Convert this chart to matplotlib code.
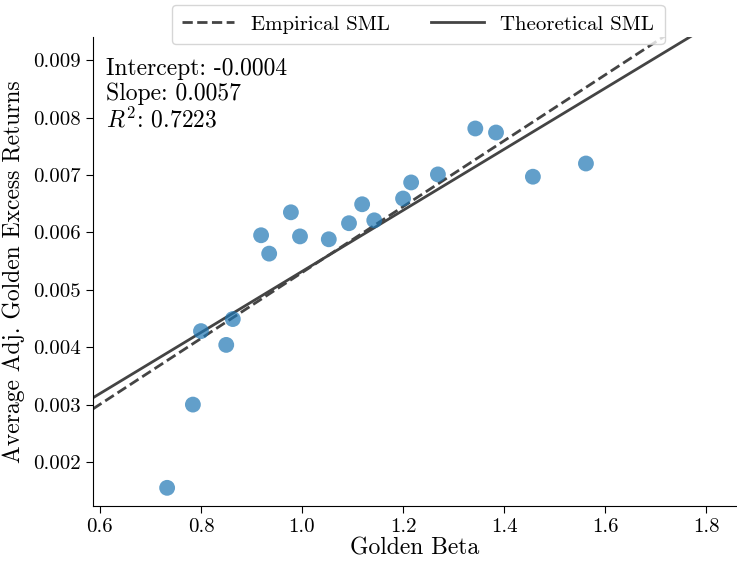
import numpy as np
import matplotlib
matplotlib.use("Agg")
import matplotlib.pyplot as plt

plt.rcParams['font.family'] = ['cmr10', 'DejaVu Serif']
plt.rcParams['mathtext.fontset'] = 'cm'
plt.rcParams['axes.formatter.use_mathtext'] = True
plt.rcParams['axes.unicode_minus'] = False

# portfolio betas and average adjusted excess returns
beta = [0.733, 0.784, 0.800, 0.850, 0.863, 0.919, 0.935, 0.978, 0.996, 1.053,
        1.093, 1.119, 1.143, 1.200, 1.216, 1.269, 1.343, 1.384, 1.457, 1.562]
excess_ret = [0.00155, 0.00300, 0.00428, 0.00404, 0.00449, 0.00595, 0.00563, 0.00635,
              0.00593, 0.00588, 0.00616, 0.00649, 0.00621, 0.00659, 0.00687, 0.00701,
              0.00781, 0.00774, 0.00697, 0.00720]

emp_intercept = -0.00044
emp_slope = 0.00574
r2 = 0.7223
theo_intercept = 0.0
theo_slope = 0.00532

fig = plt.figure(figsize=(7.37, 5.64), dpi=100)
ax = fig.add_axes([0.126, 0.103, 0.874, 0.831])

ax.scatter(beta, excess_ret, s=130, color='tab:blue', alpha=0.7, edgecolor='none', zorder=3)

xlim = (0.586, 1.861)
xs = np.array(xlim)
ax.plot(xs, emp_intercept + emp_slope * xs, ls='--', color='#444444', lw=2, label='Empirical SML')
ax.plot(xs, theo_intercept + theo_slope * xs, ls='-', color='#444444', lw=2, label='Theoretical SML')

ax.set_xlim(xlim)
ax.set_ylim(0.001235, 0.0094)
ax.set_xticks([0.6, 0.8, 1.0, 1.2, 1.4, 1.6, 1.8])
ax.set_yticks([0.002, 0.003, 0.004, 0.005, 0.006, 0.007, 0.008, 0.009])
ax.set_xticklabels(['0.6', '0.8', '1.0', '1.2', '1.4', '1.6', '1.8'])
ax.set_yticklabels(['0.002', '0.003', '0.004', '0.005', '0.006', '0.007', '0.008', '0.009'])
ax.tick_params(labelsize=15, direction='out', length=5)

ax.spines['top'].set_visible(False)
ax.spines['right'].set_visible(False)

ax.set_xlabel('Golden Beta', fontsize=17, labelpad=1)
ax.set_ylabel('Average Adj. Golden Excess Returns', fontsize=17, labelpad=6)

ax.text(0.02, 0.955, 'Intercept: -%.4f\nSlope: %.4f\n$R^2$: %.4f' % (abs(emp_intercept), emp_slope, r2),
        transform=ax.transAxes, fontsize=17, va='top', ha='left', linespacing=1.12)

ax.legend(loc='upper center', bbox_to_anchor=(0.505, 1.092), ncol=2, fontsize=15,
          frameon=True, handlelength=2.5, columnspacing=2.0, borderpad=0.5)

fig.savefig('out.png', dpi=100)
